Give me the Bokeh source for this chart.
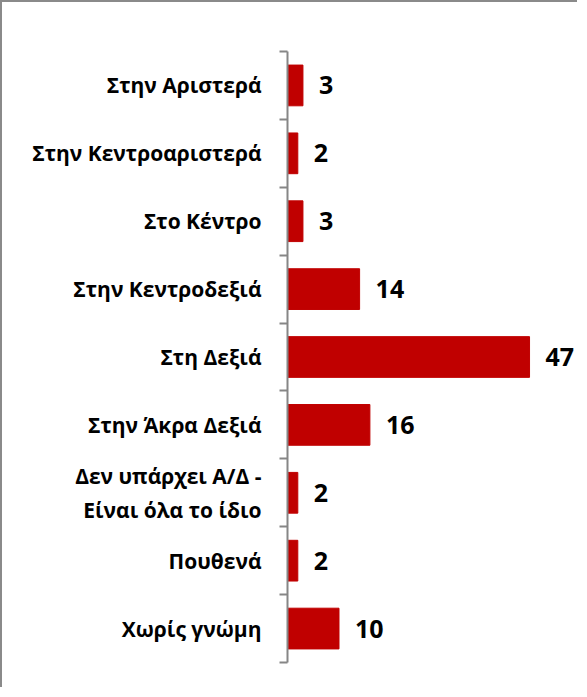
from bokeh.plotting import figure
from bokeh.models import Range1d, FixedTicker, ColumnDataSource
from bokeh.core.properties import value
from bokeh.embed import file_html
from bokeh.resources import INLINE

categories = [
    "Στην Αριστερά",
    "Στην Κεντροαριστερά",
    "Στο Κέντρο",
    "Στην Κεντροδεξιά",
    "Στη Δεξιά",
    "Στην Άκρα Δεξιά",
    "Δεν υπάρχει Α/Δ -\nΕίναι όλα το ίδιο",
    "Πουθενά",
    "Χωρίς γνώμη",
]
values = [3, 2, 3, 14, 47, 16, 2, 2, 10]

n = len(categories)
pos = [i + 0.5 for i in range(n)]
src = ColumnDataSource(dict(y=pos, v=values, t=[str(v) for v in values]))

p = figure(width=577, height=687, output_backend="svg", toolbar_location=None,
           x_range=Range1d(0, 56.7), y_range=Range1d(n, 0),
           x_axis_location=None,
           min_border_left=285, min_border_top=49, min_border_bottom=27,
           min_border_right=0)
p.outline_line_color = None
p.grid.visible = False
p.background_fill_color = "white"
p.border_fill_color = "white"

p.hbar(y="y", left=0, right="v", height=0.6, source=src,
       fill_color="#C00000", line_color="#C00000")
p.text(x="v", y="y", text="t", x_offset=16, source=src,
       text_baseline="middle", text_align="left",
       text_font=value("Open Sans"), text_font_style="bold",
       text_font_size="25px", text_color="#000000")

ax = p.yaxis[0]
ax.ticker = FixedTicker(ticks=pos, minor_ticks=list(range(n + 1)))
ax.major_label_overrides = {y: c for y, c in zip(pos, categories)}
ax.major_tick_out = 0
ax.major_tick_in = 0
ax.minor_tick_out = 8
ax.minor_tick_in = 0
ax.axis_line_color = "#868686"
ax.axis_line_width = 2
ax.minor_tick_line_color = "#868686"
ax.minor_tick_line_width = 2
ax.major_label_standoff = 18
ax.major_label_text_font = "Open Sans"
ax.major_label_text_font_style = "bold"
ax.major_label_text_font_size = "21px"
ax.major_label_text_color = "#000000"
ax.major_label_text_line_height = 1.22

p.styles = {"border-top": "2px solid #8a8a8a", "border-left": "2px solid #8a8a8a"}

open("out.html", "w").write(file_html(p, INLINE))
